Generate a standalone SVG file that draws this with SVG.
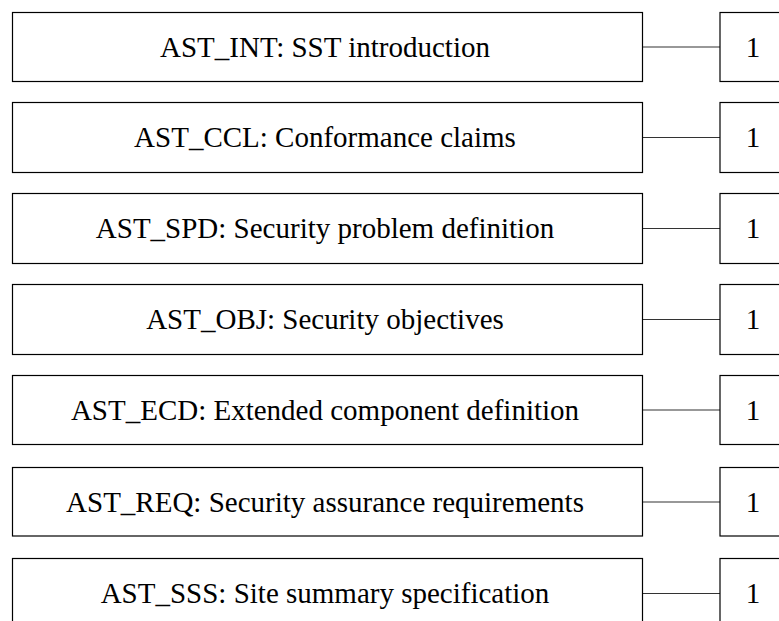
<svg xmlns="http://www.w3.org/2000/svg" width="779" height="621" viewBox="0 0 779 621">
<style>
rect{fill:#fff;stroke:#000;stroke-width:1.2}
text{font-family:"Liberation Serif","Times New Roman",serif;font-size:29px;fill:#000;text-anchor:middle}
line{stroke:#333;stroke-width:1.2}
</style>
<rect x="0" y="0" width="779" height="621" style="stroke:none"/>
<g id="connectors">
<line x1="642.5" y1="47" x2="720" y2="47"/>
<line x1="642.5" y1="137.5" x2="720" y2="137.5"/>
<line x1="642.5" y1="228.5" x2="720" y2="228.5"/>
<line x1="642.5" y1="319.5" x2="720" y2="319.5"/>
<line x1="642.5" y1="410" x2="720" y2="410"/>
<line x1="642.5" y1="502" x2="720" y2="502"/>
<line x1="642.5" y1="593.5" x2="720" y2="593.5"/>
</g>
<g id="n1"><rect x="12.5" y="12.5" width="630" height="69"/><text x="325" y="56.5">AST_INT: SST introduction</text></g>
<g id="n2"><rect x="12.5" y="102.5" width="630" height="70"/><text x="325" y="147">AST_CCL: Conformance claims</text></g>
<g id="n3"><rect x="12.5" y="193.5" width="630" height="70"/><text x="325" y="238">AST_SPD: Security problem definition</text></g>
<g id="n4"><rect x="12.5" y="284.5" width="630" height="70"/><text x="325" y="329">AST_OBJ: Security objectives</text></g>
<g id="n5"><rect x="12.5" y="375.5" width="630" height="69"/><text x="325" y="419.5">AST_ECD: Extended component definition</text></g>
<g id="n6"><rect x="12.5" y="467.5" width="630" height="68.5"/><text x="325" y="511.5">AST_REQ: Security assurance requirements</text></g>
<g id="n7"><rect x="12.5" y="558.5" width="630" height="70"/><text x="325" y="603">AST_SSS: Site summary specification</text></g>
<g id="m1"><rect x="720" y="12.5" width="70" height="69"/><text x="753" y="56.5">1</text></g>
<g id="m2"><rect x="720" y="102.5" width="70" height="70"/><text x="753" y="147">1</text></g>
<g id="m3"><rect x="720" y="193.5" width="70" height="70"/><text x="753" y="238">1</text></g>
<g id="m4"><rect x="720" y="284.5" width="70" height="70"/><text x="753" y="329">1</text></g>
<g id="m5"><rect x="720" y="375.5" width="70" height="69"/><text x="753" y="419.5">1</text></g>
<g id="m6"><rect x="720" y="467.5" width="70" height="68.5"/><text x="753" y="511.5">1</text></g>
<g id="m7"><rect x="720" y="558.5" width="70" height="70"/><text x="753" y="603">1</text></g>
</svg>
